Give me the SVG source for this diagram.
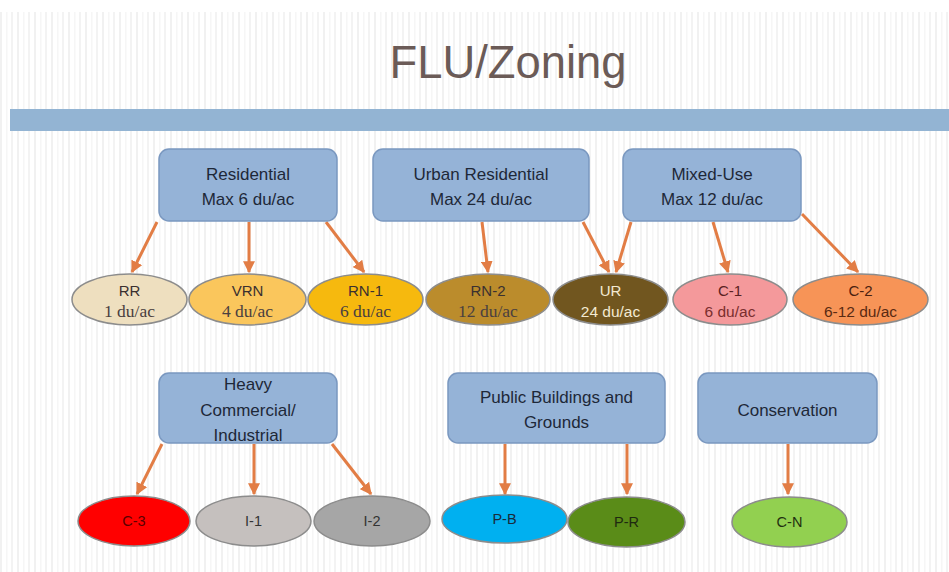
<svg xmlns="http://www.w3.org/2000/svg" width="949" height="572" viewBox="0 0 949 572">
<defs>
<pattern id="stripes" x="0" y="0" width="17" height="20" patternUnits="userSpaceOnUse">
<rect x="0" y="0" width="17" height="20" fill="#ffffff"/>
<rect x="0" y="0" width="2" height="20" fill="#f1f1f1"/>
<rect x="6" y="0" width="1.5" height="20" fill="#f6f6f6"/>
<rect x="11" y="0" width="2" height="20" fill="#f3f3f3"/>
</pattern>
<marker id="arr" viewBox="0 0 10 10" refX="9" refY="5" markerWidth="4" markerHeight="4" orient="auto" markerUnits="strokeWidth">
<path d="M0,0 L10,5 L0,10 Z" fill="#e27d45"/>
</marker>
<style>
.box{fill:#95b3d7;stroke:#7a98c0;stroke-width:1.5}
.bt{font-family:"Liberation Sans","DejaVu Sans",sans-serif;font-size:17px;fill:#1e2838;text-anchor:middle}
.el{stroke:#8c8c8c;stroke-width:1.5}
.et{font-family:"Liberation Sans","DejaVu Sans",sans-serif;font-size:15px;text-anchor:middle;fill:#3a3030}
.ed{font-family:"Liberation Sans","DejaVu Sans",sans-serif;font-size:15.5px;text-anchor:middle;fill:#3a3030}
.es{font-family:"Liberation Serif","DejaVu Serif",serif;font-size:17.5px;text-anchor:middle;fill:#4a4040}
.e2{font-family:"Liberation Sans","DejaVu Sans",sans-serif;font-size:14.5px;text-anchor:middle}
.conn line{stroke:#e27d45;stroke-width:3;marker-end:url(#arr)}
</style>
</defs>
<rect x="0" y="0" width="949" height="572" fill="#ffffff"/>
<rect x="0" y="12" width="949" height="560" fill="url(#stripes)"/>
<text x="508" y="78" font-family="'Liberation Sans','DejaVu Sans',sans-serif" font-size="46" fill="#6b5b57" text-anchor="middle" textLength="237" lengthAdjust="spacingAndGlyphs">FLU/Zoning</text>
<rect x="10" y="109" width="939" height="22" fill="#93b4d3"/>

<g id="connectors" class="conn">
<line x1="157" y1="222" x2="132" y2="272"/>
<line x1="249" y1="222" x2="249" y2="272"/>
<line x1="326" y1="222" x2="364" y2="272"/>
<line x1="482" y1="222" x2="488" y2="272"/>
<line x1="583" y1="222" x2="609" y2="272"/>
<line x1="631" y1="222" x2="616" y2="272"/>
<line x1="713" y1="222" x2="728" y2="272"/>
<line x1="802" y1="214" x2="858" y2="272"/>
<line x1="162" y1="444" x2="137" y2="494"/>
<line x1="254" y1="444" x2="254" y2="494"/>
<line x1="332" y1="444" x2="371" y2="494"/>
<line x1="505" y1="444" x2="505" y2="494"/>
<line x1="627" y1="444" x2="627" y2="494"/>
<line x1="788" y1="444" x2="788" y2="494"/>
</g>

<g id="residential"><rect class="box" x="159" y="149" width="178" height="72" rx="10"/><text class="bt" x="248" y="180">Residential</text><text class="bt" x="248" y="205">Max 6 du/ac</text></g>
<g id="urban-residential"><rect class="box" x="373" y="149" width="216" height="72" rx="10"/><text class="bt" x="481" y="180">Urban Residential</text><text class="bt" x="481" y="205">Max 24 du/ac</text></g>
<g id="mixed-use"><rect class="box" x="623" y="149" width="178" height="72" rx="10"/><text class="bt" x="712" y="180">Mixed-Use</text><text class="bt" x="712" y="205">Max 12 du/ac</text></g>

<g id="rr"><ellipse class="el" cx="129.5" cy="299.5" rx="57.5" ry="25.5" fill="#eedfbf"/><text class="et" x="129.5" y="296">RR</text><text class="es" x="129.5" y="317">1 du/ac</text></g>
<g id="vrn"><ellipse class="el" cx="247.5" cy="299.5" rx="58.5" ry="25.5" fill="#fac65c"/><text class="et" x="247.5" y="296">VRN</text><text class="es" x="247.5" y="317">4 du/ac</text></g>
<g id="rn-1"><ellipse class="el" cx="365.5" cy="299.5" rx="57.5" ry="25.5" fill="#f6b90e"/><text class="et" x="365.5" y="296">RN-1</text><text class="es" x="365.5" y="317">6 du/ac</text></g>
<g id="rn-2"><ellipse class="el" cx="488" cy="299.5" rx="62" ry="25.5" fill="#bb8c2c"/><text class="et" x="488" y="296">RN-2</text><text class="es" x="488" y="317">12 du/ac</text></g>
<g id="ur"><ellipse class="el" cx="610.5" cy="299.5" rx="57.5" ry="25.5" fill="#71561f"/><text class="et" x="610.5" y="296" style="fill:#f3ead2">UR</text><text class="ed" x="610.5" y="317" style="fill:#f3ead2">24 du/ac</text></g>
<g id="c-1"><ellipse class="el" cx="730" cy="299.5" rx="57" ry="25.5" fill="#f4999b"/><text class="et" x="730" y="296" style="fill:#5a2222">C-1</text><text class="ed" x="730" y="317" style="fill:#7a2e2e">6 du/ac</text></g>
<g id="c-2"><ellipse class="el" cx="860.5" cy="299.5" rx="67.5" ry="25.5" fill="#f79457"/><text class="et" x="860.5" y="296" style="fill:#4a2010">C-2</text><text class="ed" x="860.5" y="317" style="fill:#5a2a12">6-12 du/ac</text></g>

<g id="heavy-commercial"><rect class="box" x="159" y="373" width="178" height="70" rx="10"/><text class="bt" x="248" y="390">Heavy</text><text class="bt" x="248" y="416">Commercial/</text><text class="bt" x="248" y="441">Industrial</text></g>
<g id="public-buildings"><rect class="box" x="448" y="373" width="217" height="70" rx="10"/><text class="bt" x="556.5" y="403">Public Buildings and</text><text class="bt" x="556.5" y="428">Grounds</text></g>
<g id="conservation"><rect class="box" x="698" y="373" width="179" height="70" rx="10"/><text class="bt" x="787.5" y="416">Conservation</text></g>

<g id="c-3"><ellipse class="el" cx="134" cy="521" rx="56" ry="25" fill="#ff0000"/><text class="e2" x="134" y="526" style="fill:#5a0000">C-3</text></g>
<g id="i-1"><ellipse class="el" cx="253.5" cy="521" rx="57.5" ry="25" fill="#c5c0be"/><text class="e2" x="253.5" y="526" style="fill:#333">I-1</text></g>
<g id="i-2"><ellipse class="el" cx="372" cy="521" rx="58" ry="25" fill="#a6a6a6"/><text class="e2" x="372" y="526" style="fill:#333">I-2</text></g>
<g id="p-b"><ellipse class="el" cx="504.5" cy="519" rx="62.5" ry="24" fill="#00b0f0"/><text class="e2" x="504.5" y="524" style="fill:#1a2a3a">P-B</text></g>
<g id="p-r"><ellipse class="el" cx="626.5" cy="522" rx="58.5" ry="25" fill="#5a8c18"/><text class="e2" x="626.5" y="527" style="fill:#1e2a10">P-R</text></g>
<g id="c-n"><ellipse class="el" cx="789.5" cy="522" rx="57.5" ry="25" fill="#92d050"/><text class="e2" x="789.5" y="527" style="fill:#223010">C-N</text></g>
</svg>
